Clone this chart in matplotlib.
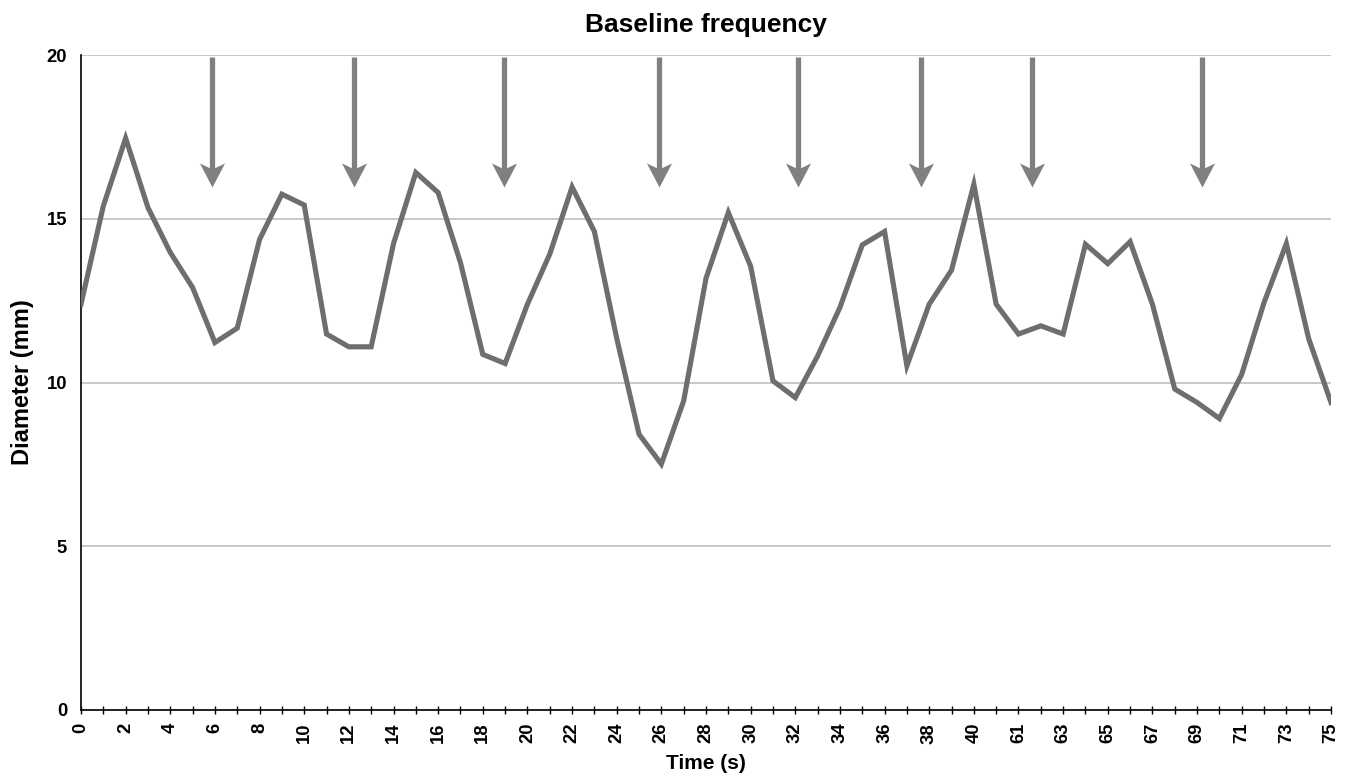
import matplotlib
matplotlib.use("Agg")
import matplotlib.pyplot as plt
from matplotlib.path import Path
import numpy as np

plt.rcParams['font.family'] = ['Liberation Sans', 'DejaVu Sans']

time_labels = [str(t) for t in range(0, 42)] + [str(t) for t in range(61, 76)]
diameter = [12.39, 15.39, 17.46, 15.34, 13.97, 12.9, 11.22, 11.66, 14.37, 15.75,
            15.42, 11.48, 11.09, 11.09, 14.24, 16.41, 15.8, 13.66, 10.86, 10.58,
            12.39, 13.92, 15.97, 14.61, 11.35, 8.42, 7.51, 9.44, 13.18, 15.19,
            13.55, 10.05, 9.54, 10.81, 12.29, 14.2, 14.61, 10.51, 12.39, 13.43,
            16.05, 12.39, 11.48, 11.73, 11.48, 14.22, 13.63, 14.3, 12.39, 9.8,
            9.39, 8.9, 10.25, 12.44, 14.24, 11.34, 9.39]
# stimulus arrows (positions in category-index units)
arrow_pos = [5.86, 12.25, 18.95, 25.88, 32.13, 37.64, 42.62, 50.22]
arrow_top = 19.95
arrow_tip = 15.97
arrow_shaft_end = 16.5

fig = plt.figure(figsize=(13.49, 7.78), dpi=100)
ax = fig.add_axes([81/1349, 1 - 710/778, (1331-81)/1349, (710-55)/778])

x = np.arange(len(time_labels))
ax.plot(x, diameter, color='#6e6e6e', lw=3.7, solid_joinstyle='miter', zorder=3)

# notched arrow head marker (tip at origin)
head = Path([(0, 0), (-12.5, 24), (0, 18), (12.5, 24), (0, 0)],
            [Path.MOVETO, Path.LINETO, Path.LINETO, Path.LINETO, Path.CLOSEPOLY])
for p in arrow_pos:
    ax.plot([p, p], [arrow_top, arrow_shaft_end], color='#808080', lw=3.8,
            solid_capstyle='butt', zorder=4)
    ax.plot([p], [arrow_tip], marker=head, markersize=34.6, color='#808080',
            markeredgewidth=0, linestyle='none', zorder=4)

ax.set_xlim(0, len(time_labels) - 1)
ax.set_ylim(0, 20)
ax.set_yticks([0, 5, 10, 15, 20])
ax.yaxis.grid(True, color='#c4c4c4', lw=1.3)
ax.set_axisbelow(True)
ax.tick_params(axis='y', length=0, labelsize=13.3, pad=10)
for lab in ax.get_yticklabels():
    lab.set_fontweight('bold')

ax.set_xticks(x)
ax.set_xticklabels([lab if i % 2 == 0 else '' for i, lab in enumerate(time_labels)],
                   rotation=90, fontsize=13.3, fontweight='bold')
ax.tick_params(axis='x', direction='inout', length=5.5, width=1, pad=6.5)

for s in ['top', 'right']:
    ax.spines[s].set_visible(False)
ax.spines['left'].set_linewidth(1.2)
ax.spines['bottom'].set_linewidth(1.2)

ax.set_title('Baseline frequency', fontsize=19, fontweight='bold', pad=16.5)
ax.set_xlabel('Time (s)', fontsize=15, fontweight='bold')
ax.xaxis.set_label_coords(0.5, (710 - 754) / 655)
ax.set_ylabel('Diameter (mm)', fontsize=17, fontweight='bold')
ax.yaxis.set_label_coords((34 - 81) / 1250, 0.5)

fig.savefig('out.png', dpi=100)
